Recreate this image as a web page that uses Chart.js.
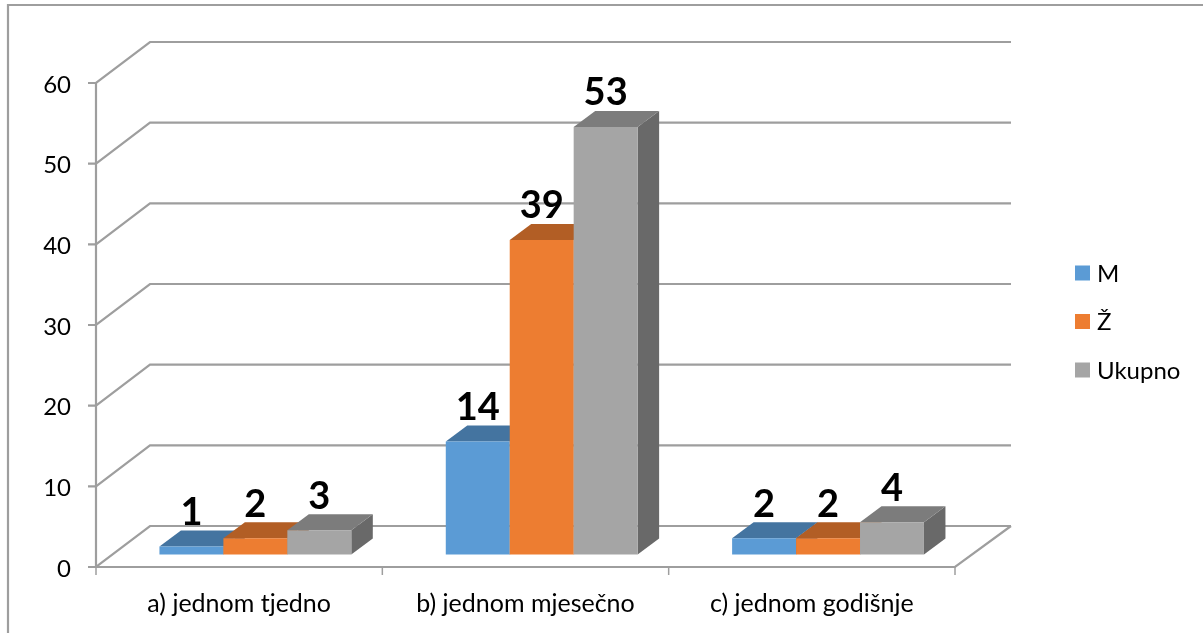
<!DOCTYPE html>
<html>
<head>
<meta charset="utf-8">
<style>
  html, body { margin: 0; padding: 0; background: #fff; overflow: hidden; }
  canvas { display: block; }
</style>
<script src="https://cdn.jsdelivr.net/npm/chart.js@4"></script>
</head>
<body>
<canvas id="chart" width="1203" height="633"></canvas>
<script>
// Chart data
const categories = ['a) jednom tjedno', 'b) jednom mjesečno', 'c) jednom godišnje'];
const seriesNames = ['M', 'Ž', 'Ukupno'];
const valuesM = [1, 14, 2];
const valuesZ = [2, 39, 2];
const valuesUkupno = [3, 53, 4];

// Face colours per series
const frontColors = ['#5B9BD5', '#ED7D31', '#A5A5A5'];
const topColors = ['#4474A0', '#B25E25', '#7C7C7C'];
const sideColors = ['#395F83', '#95501F', '#696969'];

const fontFamily = 'Lato, "Open Sans", sans-serif';
const lineColor = '#9E9E9E';

// Fake 3D: wall depth and bar position/depth
const wallDx = 54, wallDy = -41, wallRightDx = 56;
const barDx = 16.2, barDy = -12.5;
const depthDx = 21.5, depthDy = -16;

function line(ctx, points) {
    ctx.beginPath();
    points.forEach((p, i) => i ? ctx.lineTo(p[0], p[1]) : ctx.moveTo(p[0], p[1]));
    ctx.stroke();
}

function face(ctx, color, points) {
    ctx.fillStyle = color;
    ctx.beginPath();
    points.forEach((p, i) => i ? ctx.lineTo(p[0], p[1]) : ctx.moveTo(p[0], p[1]));
    ctx.closePath();
    ctx.fill();
}

const box3d = {
    id: 'box3d',
    // Frame, walls, floor and axis ticks
    beforeDatasetsDraw(chart) {
        const { ctx, chartArea: area, scales: { y } } = chart;
        ctx.save();
        ctx.strokeStyle = lineColor;
        ctx.lineWidth = 2.2;
        line(ctx, [[8, 633], [8, 5], [1203, 5]]);

        y.ticks.forEach(t => {
            const py = y.getPixelForValue(t.value);
            line(ctx, [[area.left - 8, py], [area.left, py], [area.left + wallDx, py + wallDy], [area.right + wallRightDx, py + wallDy]]);
        });
        line(ctx, [[area.left, area.top], [area.left, area.bottom]]);
        line(ctx, [[area.left, area.bottom], [area.right, area.bottom], [area.right + wallRightDx, area.bottom + wallDy]]);

        const step = (area.right - area.left) / categories.length;
        ctx.lineWidth = 1.5;
        for (let i = 0; i <= categories.length; i++) {
            line(ctx, [[area.left + i * step, area.bottom], [area.left + i * step, area.bottom + 8]]);
        }
        ctx.restore();
    },
    // Chart.js paints the last dataset first, the boxes need the first one first
    beforeDatasetDraw() {
        return false;
    },
    afterDatasetsDraw(chart) {
        const ctx = chart.ctx;
        chart.data.datasets.forEach((ds, i) => {
            const meta = chart.getDatasetMeta(i);
            ctx.save();
            ctx.translate(barDx, barDy);
            meta.data.forEach(bar => {
                const left = bar.x - bar.width / 2, right = bar.x + bar.width / 2;
                face(ctx, sideColors[i], [[right, bar.y], [right + depthDx, bar.y + depthDy], [right + depthDx, bar.base + depthDy], [right, bar.base]]);
                face(ctx, topColors[i], [[left, bar.y], [left + depthDx, bar.y + depthDy], [right + depthDx, bar.y + depthDy], [right, bar.y]]);
            });
            meta.controller.draw();
            ctx.restore();
        });

        // Data labels
        ctx.save();
        ctx.fillStyle = '#000';
        ctx.textAlign = 'center';
        ctx.textBaseline = 'alphabetic';
        ctx.font = 'bold 38px ' + fontFamily;
        chart.data.datasets.forEach((ds, i) => {
            chart.getDatasetMeta(i).data.forEach((bar, j) => {
                ctx.fillText(ds.data[j], bar.x + barDx, bar.y + barDy + depthDy - 5.5);
            });
        });

        // Legend
        ctx.textAlign = 'left';
        ctx.textBaseline = 'middle';
        ctx.font = '24px ' + fontFamily;
        chart.data.datasets.forEach((ds, i) => {
            const cy = 273 + i * 48.5;
            ctx.fillStyle = ds.backgroundColor;
            ctx.fillRect(1075, cy - 7.5, 15, 15);
            ctx.fillStyle = '#000';
            ctx.fillText(ds.label, 1097, cy + 1);
        });
        ctx.restore();
    }
};

new Chart(document.getElementById('chart'), {
    type: 'bar',
    data: {
        labels: categories,
        datasets: [valuesM, valuesZ, valuesUkupno].map((data, i) => ({
            label: seriesNames[i],
            data: data,
            backgroundColor: frontColors[i],
            barPercentage: 1,
            categoryPercentage: 0.67
        }))
    },
    options: {
        responsive: false,
        animation: false,
        layout: { padding: { top: 83, right: 248, left: 0, bottom: 0 } },
        plugins: { legend: { display: false }, tooltip: { enabled: false } },
        scales: {
            x: {
                grid: { display: false, drawTicks: false },
                border: { display: false },
                ticks: { color: '#000', padding: 22, font: { family: fontFamily, size: 25 }, maxRotation: 0 },
                afterFit: scale => { scale.height = 66; }
            },
            y: {
                min: 0,
                max: 60,
                grid: { display: false, drawTicks: false },
                border: { display: false },
                ticks: { color: '#000', stepSize: 10, padding: 25, labelOffset: 2, font: { family: fontFamily, size: 24 } },
                afterFit: scale => { scale.width = 96; }
            }
        }
    },
    plugins: [box3d]
});
</script>
</body>
</html>
